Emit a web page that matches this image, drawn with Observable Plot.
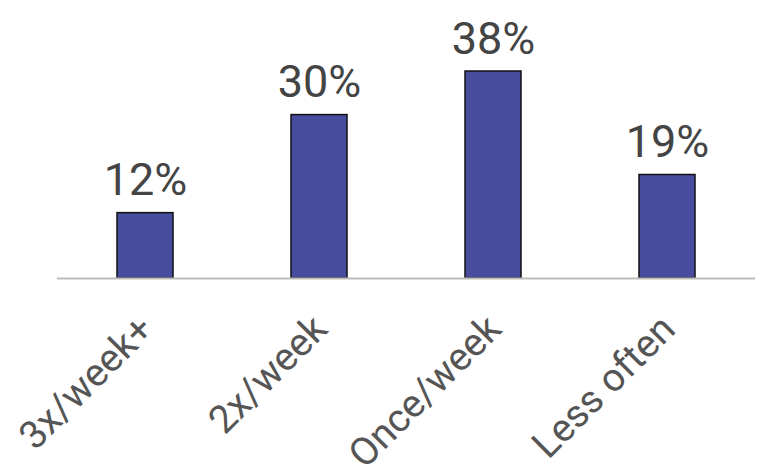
<!DOCTYPE html>
<html>
<head>
<meta charset="utf-8">
<script src="https://cdn.jsdelivr.net/npm/d3@7"></script>
<script src="https://cdn.jsdelivr.net/npm/@observablehq/plot@0.6"></script>
<style>
  html, body { margin: 0; padding: 0; background: #fff; }
  #chart svg { display: block; }
</style>
</head>
<body>
<div id="chart"></div>
<script>
const categories = ["3x/week+", "2x/week", "Once/week", "Less often"];
const values = [12, 30, 38, 19];
const labels = ["12%", "30%", "38%", "19%"];

const data = categories.map((c, i) => ({category: c, value: values[i], label: labels[i]}));

const chart = Plot.plot({
  width: 758,
  height: 470,
  marginLeft: 57,
  marginRight: 3,
  marginTop: 71,
  marginBottom: 192,
  style: {fontFamily: "Roboto", background: "#fff"},
  x: {domain: categories, paddingInner: 0.68, paddingOuter: 0.34, axis: null},
  y: {domain: [0, 38], axis: null},
  marks: [
    Plot.barY(data, {x: "category", y: "value", fill: "#484c9e", stroke: "#111", strokeWidth: 1.5}),
    Plot.ruleY([0], {stroke: "#bdbdbd", strokeWidth: 2}),
    Plot.text(data, {x: "category", y: "value", text: "label", lineAnchor: "bottom", dy: -18, fontSize: 45, fill: "#444"}),
    Plot.text(data, {x: "category", frameAnchor: "bottom", text: "category", rotate: -45, textAnchor: "end", lineAnchor: "middle", dx: 1, dy: 44, fontSize: 39, fill: "#555"})
  ]
});
document.getElementById("chart").appendChild(chart);
</script>
</body>
</html>
